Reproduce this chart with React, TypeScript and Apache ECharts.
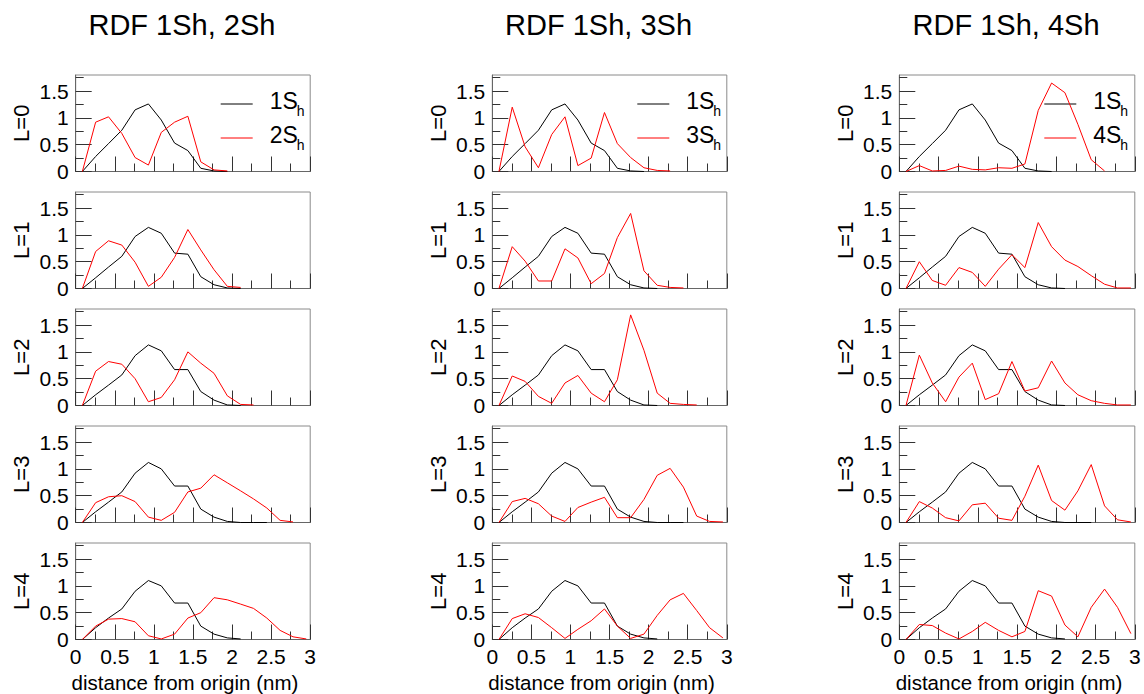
import React, { useEffect, useRef } from 'react';
import * as echarts from 'echarts';

const FONT = '"Liberation Sans", Arial, Helvetica, sans-serif';

// Bin centres of the radial distribution (nm)
const DIST = [0.085, 0.255, 0.42, 0.59, 0.76, 0.93, 1.095, 1.265, 1.435, 1.6, 1.77, 1.94, 2.11, 2.275, 2.445, 2.615, 2.78, 2.95];

// 1S_h reference state, one array per angular momentum L
const S1_L0 = [0, 0.28, 0.52, 0.77, 1.15, 1.26, 0.96, 0.53, 0.39, 0.06, 0.01, 0];
const S1_L1 = [0, 0.2, 0.4, 0.6, 0.97, 1.14, 1.03, 0.66, 0.64, 0.22, 0.07, 0.01, 0];
const S1_L2 = [0, 0.2, 0.38, 0.57, 0.93, 1.13, 1.02, 0.67, 0.67, 0.26, 0.1, 0.01, 0];
const S1_L3 = [0, 0.2, 0.38, 0.57, 0.92, 1.12, 1.0, 0.68, 0.68, 0.25, 0.1, 0.02, 0, 0, 0];
const S1_L4 = [0, 0.22, 0.4, 0.57, 0.9, 1.1, 1.0, 0.68, 0.68, 0.25, 0.1, 0.03, 0.01];

// 2S_h
const S2_L0 = [0, 0.92, 1.02, 0.71, 0.26, 0.12, 0.73, 0.92, 1.03, 0.18, 0.03, 0.01];
const S2_L1 = [0, 0.69, 0.89, 0.81, 0.49, 0.04, 0.21, 0.58, 1.1, 0.72, 0.35, 0.04, 0.02];
const S2_L2 = [0, 0.64, 0.82, 0.77, 0.5, 0.07, 0.15, 0.48, 1.0, 0.79, 0.6, 0.18, 0.02, 0.01];
const S2_L3 = [0, 0.37, 0.48, 0.5, 0.39, 0.1, 0.04, 0.19, 0.57, 0.64, 0.89, 0.74, 0.59, 0.44, 0.27, 0.04, 0.01];
const S2_L4 = [0, 0.25, 0.38, 0.39, 0.33, 0.07, 0.01, 0.1, 0.4, 0.5, 0.78, 0.74, 0.66, 0.58, 0.4, 0.17, 0.05, 0.01];

// 3S_h
const S3_L0 = [0, 1.2, 0.46, 0.07, 0.69, 1.02, 0.11, 0.25, 1.1, 0.52, 0.26, 0.07, 0.02, 0.01];
const S3_L1 = [0, 0.78, 0.51, 0.14, 0.14, 0.74, 0.57, 0.09, 0.28, 0.95, 1.4, 0.33, 0.06, 0.02, 0.01];
const S3_L2 = [0, 0.55, 0.45, 0.17, 0.04, 0.42, 0.56, 0.23, 0.07, 0.48, 1.69, 1.03, 0.23, 0.04, 0.02, 0.01];
const S3_L3 = [0, 0.39, 0.45, 0.35, 0.12, 0.02, 0.28, 0.38, 0.47, 0.09, 0.09, 0.43, 0.88, 1.01, 0.66, 0.12, 0.02, 0.01];
const S3_L4 = [0, 0.39, 0.48, 0.41, 0.22, 0.02, 0.19, 0.35, 0.57, 0.25, 0.02, 0.1, 0.45, 0.74, 0.86, 0.54, 0.22, 0.03];

// 4S_h
const S4_L0 = [0, 0.11, 0.01, 0.02, 0.1, 0.04, 0.03, 0.07, 0.06, 0.14, 1.14, 1.65, 1.47, 0.88, 0.22, 0.01];
const S4_L1 = [0, 0.5, 0.15, 0.06, 0.39, 0.3, 0.04, 0.36, 0.63, 0.39, 1.23, 0.78, 0.53, 0.41, 0.24, 0.08, 0.01, 0.01];
const S4_L2 = [0, 0.94, 0.42, 0.07, 0.53, 0.79, 0.11, 0.22, 0.82, 0.27, 0.33, 0.83, 0.42, 0.2, 0.09, 0.04, 0.01, 0.01];
const S4_L3 = [0, 0.39, 0.27, 0.09, 0.03, 0.33, 0.36, 0.08, 0.04, 0.49, 1.07, 0.41, 0.23, 0.59, 1.08, 0.31, 0.05, 0.01];
const S4_L4 = [0, 0.28, 0.26, 0.12, 0.01, 0.15, 0.32, 0.17, 0.05, 0.15, 0.91, 0.81, 0.27, 0.05, 0.6, 0.94, 0.6, 0.11];

const S1 = [S1_L0, S1_L1, S1_L2, S1_L3, S1_L4];
const PARTNERS = [
  [S2_L0, S2_L1, S2_L2, S2_L3, S2_L4],
  [S3_L0, S3_L1, S3_L2, S3_L3, S3_L4],
  [S4_L0, S4_L1, S4_L2, S4_L3, S4_L4],
];

const COLUMN_TITLES = ['RDF 1Sh, 2Sh', 'RDF 1Sh, 3Sh', 'RDF 1Sh, 4Sh'];
const PARTNER_LABELS = ['2S', '3S', '4S'];
const ROW_LABELS = ['L=0', 'L=1', 'L=2', 'L=3', 'L=4'];
const X_NAME = 'distance from origin (nm)';
const Y_MAJOR = [0, 0.5, 1, 1.5];
const Y_MINOR = [0.25, 0.75, 1.25, 1.75];

// Panel layout
const COL_LEFT = [75.7, 492.3, 899.3];
const COL_WIDTH = [234.5, 234.5, 235.5];
const ROW_TOP = [75, 192, 309, 426, 543];
const ROW_HEIGHT = 96.5;

const pairs = (ys: number[]) => ys.map((v, i) => [DIST[i], v]);

function buildOption() {
  const grid: any[] = [];
  const xAxis: any[] = [];
  const yAxis: any[] = [];
  const series: any[] = [];
  const graphic: any[] = [];
  const title: any[] = [];

  for (let c = 0; c < 3; c++) {
    title.push({
      text: COLUMN_TITLES[c],
      left: COL_LEFT[c] + COL_WIDTH[c] / 2 - 11,
      top: 10,
      textAlign: 'center',
      padding: 0,
      textStyle: { fontSize: 29, fontWeight: 'normal', color: '#000', fontFamily: FONT },
    });

    for (let r = 0; r < 5; r++) {
      const g = grid.length;
      const left = COL_LEFT[c];
      const top = ROW_TOP[r];
      grid.push({
        left,
        top,
        width: COL_WIDTH[c],
        height: ROW_HEIGHT,
        show: true,
        borderColor: '#8a8a8a',
        borderWidth: 1,
        backgroundColor: 'transparent',
      });
      const bottom = r === 4;
      xAxis.push({
        type: 'value',
        gridIndex: g,
        min: 0,
        max: 3,
        interval: 0.5,
        axisLine: { show: true, onZero: false, lineStyle: { color: '#666', width: 1 } },
        axisTick: { show: true, inside: true, length: 15, lineStyle: { color: '#333', width: 1 } },
        minorTick: { show: true, splitNumber: 2, length: 8, lineStyle: { color: '#333', width: 1 } },
        splitLine: { show: false },
        minorSplitLine: { show: false },
        axisLabel: { show: bottom, fontSize: 21, color: '#000', fontFamily: FONT, margin: 6 },
        name: bottom ? X_NAME : '',
        nameLocation: 'middle',
        nameGap: 32,
        nameTextStyle: { fontSize: 20.5, color: '#000', fontFamily: FONT, padding: [0, 16, 0, 0] },
      });
      yAxis.push({
        type: 'value',
        gridIndex: g,
        min: 0,
        max: 1.8,
        position: 'left',
        axisLine: { show: true, onZero: false, lineStyle: { color: '#666', width: 1 } },
        axisTick: { show: true, inside: true, length: 16, customValues: Y_MAJOR, lineStyle: { color: '#333', width: 1 } },
        axisLabel: { show: true, customValues: Y_MAJOR, fontSize: 21, color: '#000', fontFamily: FONT, margin: 7 },
        splitLine: { show: false },
      });
      yAxis.push({
        type: 'value',
        gridIndex: g,
        min: 0,
        max: 1.8,
        position: 'left',
        axisLine: { show: false },
        axisTick: { show: true, inside: true, length: 8, customValues: Y_MINOR, lineStyle: { color: '#333', width: 1 } },
        axisLabel: { show: false },
        splitLine: { show: false },
      });
      series.push({
        type: 'line',
        name: '1S_h',
        xAxisIndex: g,
        yAxisIndex: 2 * g,
        data: pairs(S1[r]),
        showSymbol: false,
        silent: true,
        lineStyle: { color: '#000', width: 1 },
      });
      series.push({
        type: 'line',
        name: PARTNER_LABELS[c] + '_h',
        xAxisIndex: g,
        yAxisIndex: 2 * g,
        data: pairs(PARTNERS[c][r]),
        showSymbol: false,
        silent: true,
        lineStyle: { color: '#ff0000', width: 1 },
      });

      // Row label, rotated
      graphic.push({
        type: 'text',
        x: left - 54,
        y: top + ROW_HEIGHT / 2,
        rotation: Math.PI / 2,
        style: { text: ROW_LABELS[r], fontSize: 22, fontFamily: FONT, fill: '#000', align: 'center', verticalAlign: 'middle' },
      });

      // Legend in the top row of each column
      if (r === 0) {
        const entries = [
          { label: '1S', color: '#000', dy: 29 },
          { label: PARTNER_LABELS[c], color: '#ff0000', dy: 63 },
        ];
        entries.forEach((e) => {
          graphic.push({
            type: 'line',
            shape: { x1: left + 145, y1: top + e.dy, x2: left + 177, y2: top + e.dy },
            style: { stroke: e.color, lineWidth: 1 },
          });
          graphic.push({
            type: 'text',
            x: left + 194,
            y: top + e.dy - 3,
            style: { text: e.label, fontSize: 23, fontFamily: FONT, fill: '#000', align: 'left', verticalAlign: 'middle' },
          });
          graphic.push({
            type: 'text',
            x: left + 221,
            y: top + e.dy + 7,
            style: { text: 'h', fontSize: 14, fontFamily: FONT, fill: '#000', align: 'left', verticalAlign: 'middle' },
          });
        });
      }
    }
  }

  return {
    animation: false,
    backgroundColor: '#fff',
    textStyle: { fontFamily: FONT },
    title,
    grid,
    xAxis,
    yAxis,
    series,
    graphic,
  };
}

export default function App() {
  const ref = useRef<HTMLDivElement>(null);
  useEffect(() => {
    if (!ref.current) return;
    const chart = echarts.init(ref.current, undefined, { renderer: 'svg' });
    chart.setOption(buildOption() as any);
    return () => chart.dispose();
  }, []);
  return (
    <div
      ref={ref}
      style={{ position: 'absolute', left: 0, top: 0, width: 1144, height: 694, background: '#fff' }}
    />
  );
}
